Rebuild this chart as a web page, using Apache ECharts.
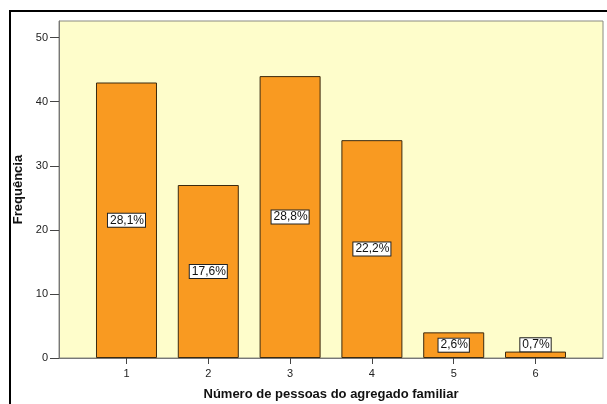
<!DOCTYPE html>
<html>
<head>
<meta charset="utf-8">
<script src="https://cdn.jsdelivr.net/npm/echarts@6/dist/echarts.min.js"></script>
<style>
html, body { margin: 0; background: #fff; }
#chart { width: 607px; height: 404px; }
</style>
</head>
<body>
<div id="chart"></div>
<script>
// dados do gráfico
const pessoas = [1, 2, 3, 4, 5, 6]
const frequencia = [43, 27, 44, 34, 4, 1]
const percentagens = ['28,1%', '17,6%', '28,8%', '22,2%', '2,6%', '0,7%']
const yTicks = [0, 10, 20, 30, 40, 50]

let chart = echarts.init(document.getElementById('chart'))
let option = {
  animation: false,
  textStyle: { fontFamily: 'Liberation Sans, Arial, sans-serif' },
  // moldura preta (topo e esquerda)
  graphic: [{
    type: 'rect',
    shape: { x: 10, y: 11, width: 700, height: 500 },
    style: { fill: 'none', stroke: '#000', lineWidth: 2 },
    silent: true
  }],
  grid: {
    left: 59, top: 21, right: 4, bottom: 46,
    outerBoundsMode: 'none',
    show: true,
    backgroundColor: '#fefdcb',
    borderColor: '#8a8a80',
    borderWidth: 1
  },
  xAxis: {
    type: 'value',
    min: 0.175,
    max: 6.825,
    splitLine: { show: false },
    axisLine: { show: true, lineStyle: { color: '#777' } },
    axisTick: { show: true, customValues: pessoas, length: 6, lineStyle: { color: '#444' } },
    axisLabel: { customValues: pessoas, color: '#222', fontSize: 11, margin: 10 },
    name: 'Número de pessoas do agregado familiar',
    nameLocation: 'middle',
    nameGap: 30,
    nameTextStyle: { fontWeight: 'bold', fontSize: 13, color: '#111' }
  },
  yAxis: {
    type: 'value',
    min: 0,
    max: 52.6,
    splitLine: { show: false },
    axisLine: { show: true, lineStyle: { color: '#777' } },
    axisTick: { show: true, customValues: yTicks, length: 9, lineStyle: { color: '#444' } },
    axisLabel: { customValues: yTicks, color: '#222', fontSize: 11, margin: 11 },
    name: 'Frequência',
    nameLocation: 'middle',
    nameGap: 33,
    nameTextStyle: { fontWeight: 'bold', fontSize: 13, color: '#111' }
  },
  series: [{
    type: 'bar',
    barWidth: 61,
    itemStyle: { color: '#f99a21', borderColor: '#3b2a10', borderWidth: 1 },
    label: {
      show: true,
      position: 'inside',
      formatter: p => percentagens[p.dataIndex],
      color: '#111',
      fontSize: 12,
      backgroundColor: '#fff',
      borderColor: '#222',
      borderWidth: 1,
      padding: [1, 1, 0, 2]
    },
    data: pessoas.map((p, i) => ({
      value: [p, frequencia[i]],
      label: i === 5 ? { offset: [0, -10] } : undefined
    }))
  }]
}
chart.setOption(option)
</script>
</body>
</html>
